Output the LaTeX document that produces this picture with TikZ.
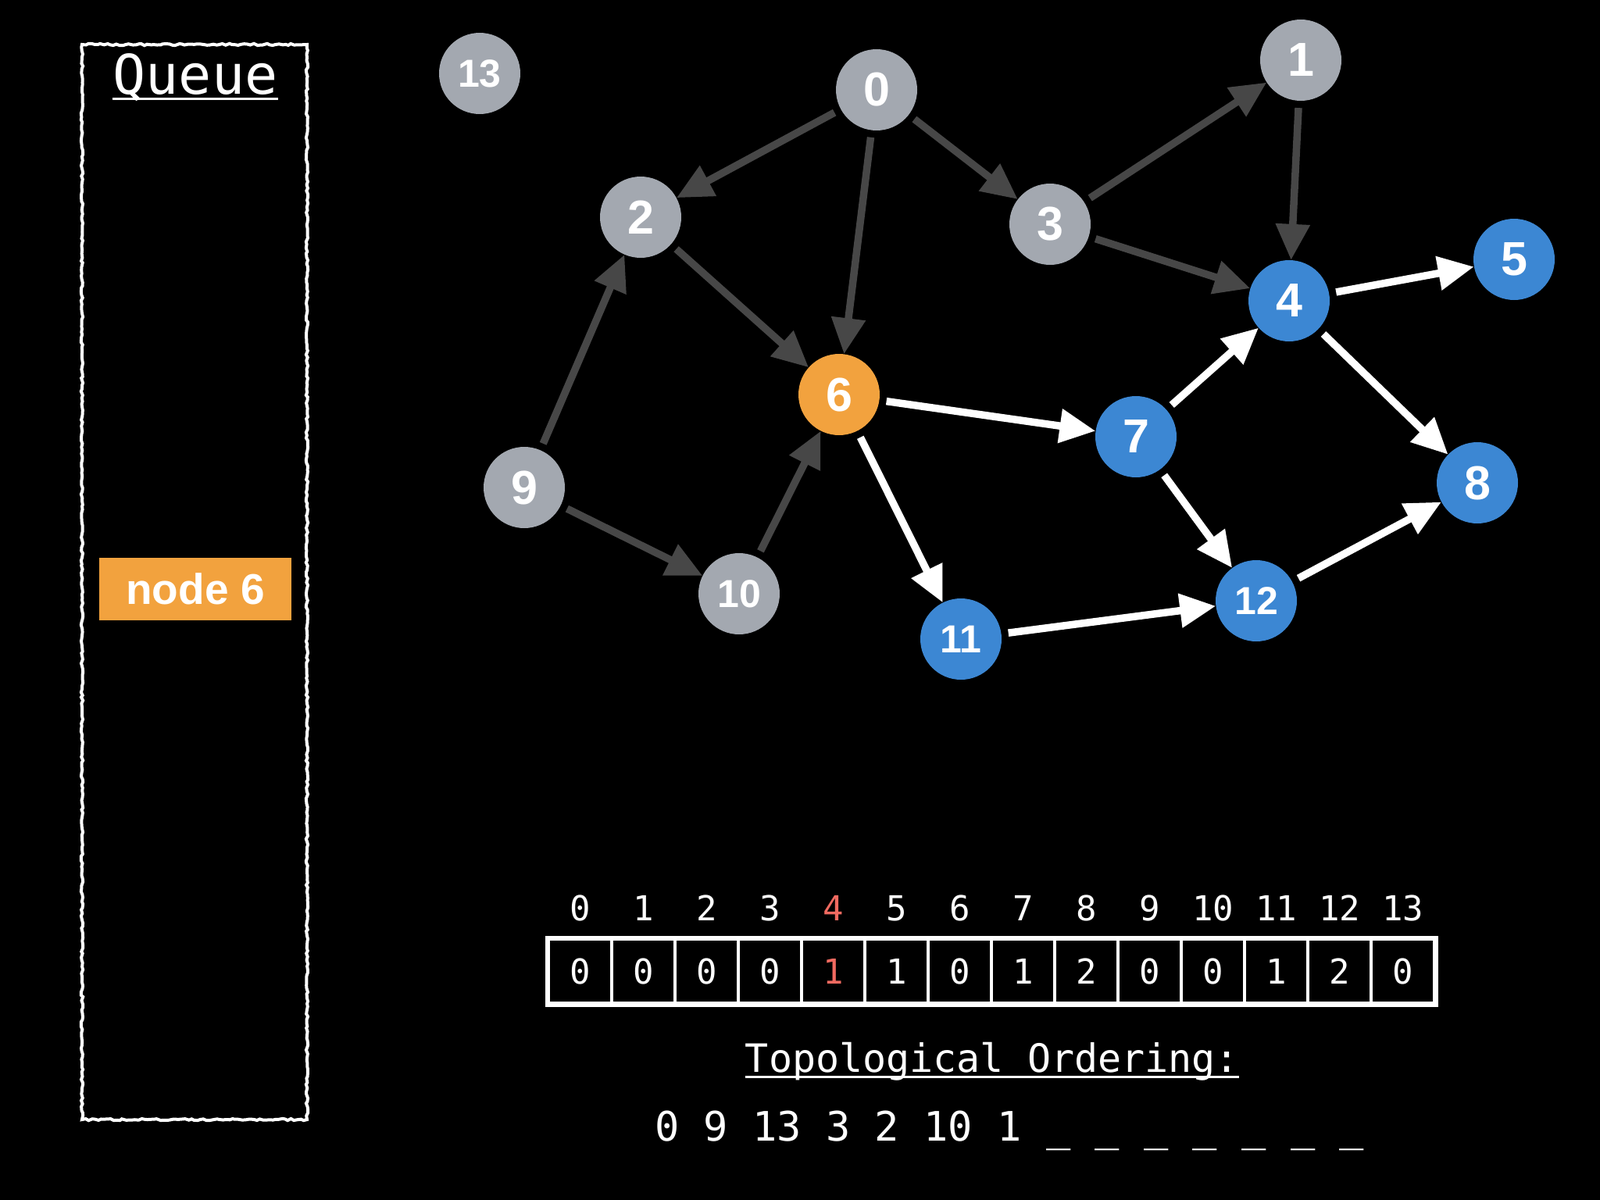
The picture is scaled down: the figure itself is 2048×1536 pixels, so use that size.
\documentclass[tikz,border=0pt]{standalone}
\usepackage{fontspec}
\setmainfont{Liberation Sans}
\newfontfamily\monofont{DejaVu Sans Mono}
\usepackage{xcolor}
\usepackage{tikz}
\usetikzlibrary{arrows.meta,decorations.pathmorphing}
\definecolor{bg}{HTML}{000000}
\definecolor{ngray}{HTML}{A3A8B0}
\definecolor{nblue}{HTML}{3C87D3}
\definecolor{norange}{HTML}{F2A23E}
\definecolor{egray}{HTML}{474747}
\definecolor{hl}{HTML}{F06A60}
\tikzset{
  vert/.style={circle, minimum size=104pt, inner sep=0pt, text=white,
    font=\bfseries\fontsize{61}{61}\selectfont},
  vsmall/.style={vert, font=\bfseries\fontsize{50}{50}\selectfont},
  gvert/.style={fill=ngray},
  bvert/.style={fill=nblue},
  overt/.style={fill=norange},
  gedge/.style={draw=egray, line width=9.5pt, shorten <=9pt,
    -{Triangle[length=46pt,width=42pt]}},
  wedge/.style={gedge, draw=white},
  qbox/.style={draw=white, line width=4pt, decorate,
    decoration={random steps, segment length=4pt, amplitude=1.2pt}},
  qitem/.style={fill=norange, text=white, minimum width=246pt, minimum height=80pt,
    inner sep=0pt, font=\bfseries\fontsize{55}{55}\selectfont},
  idx/.style={text=white, inner sep=0pt, anchor=base,
    font=\monofont\fontsize{44}{44}\selectfont},
  cell/.style={draw=white, line width=4pt, minimum width=81pt, minimum height=82pt,
    inner sep=0pt, text=white, font=\monofont\fontsize{44}{44}\selectfont},
  mtext/.style={text=white, inner sep=0pt, font=\monofont\fontsize{50}{50}\selectfont},
  uline/.style={draw=white, line width=3pt}
}
\begin{document}
\begin{tikzpicture}[x=1pt, y=-1pt]
  \fill[bg] (0,0) rectangle (2048,1536);
  \useasboundingbox (0,0) rectangle (2048,1536);

  % queue
  \draw[qbox] (105,57) rectangle (393,1433);
  \node[mtext, anchor=base, font=\monofont\fontsize{70}{70}\selectfont] (qt) at (250,121) {Queue};
  \draw[uline] ([yshift=-6pt]qt.base west) -- ([yshift=-6pt]qt.base east);
  \node[qitem] (q6) at (250,754) {node 6};

  % graph
  \node[vsmall, gvert] (n13) at (614,94) {13};
  \node[vert, gvert] (n0) at (1122,115) {0};
  \node[vert, gvert] (n1) at (1665,77) {1};
  \node[vert, gvert] (n2) at (820,278) {2};
  \node[vert, gvert] (n3) at (1344,287) {3};
  \node[vert, bvert] (n4) at (1650,385) {4};
  \node[vert, bvert] (n5) at (1938,332) {5};
  \node[vert, overt] (n6) at (1074,505) {6};
  \node[vert, bvert] (n7) at (1454,559) {7};
  \node[vert, bvert] (n8) at (1891,618) {8};
  \node[vert, gvert] (n9) at (671,624) {9};
  \node[vsmall, gvert] (n10) at (946,760) {10};
  \node[vsmall, bvert] (n11) at (1230,818) {11};
  \node[vsmall, bvert] (n12) at (1608,769) {12};

  \foreach \a/\b in {0/2,0/6,0/3,3/1,1/4,3/4,2/6,9/2,9/10,10/6}
    \draw[gedge] (n\a) -- (n\b);
  \foreach \a/\b in {6/7,6/11,7/4,4/5,4/8,7/12,11/12,12/8}
    \draw[wedge] (n\a) -- (n\b);

  % in-degree array
  \foreach \v [count=\i from 0] in {0,0,0,0,1,1,0,1,2,0,0,1,2,0} {
    \ifnum\i=4 \def\tc{hl}\else\def\tc{white}\fi
    \node[idx, text=\tc] (i\i) at ({742.5+81*\i},1178) {\i};
    \node[cell, text=\tc] (c\i) at ({742.5+81*\i},1243) {\v};
  }
  \draw[draw=white, line width=5pt] (c0.north west) rectangle (c13.south east);

  % ordering
  \node[mtext, anchor=base] (tt) at (1270,1372) {Topological Ordering:};
  \draw[uline] ([yshift=-6pt]tt.base west) -- ([yshift=-6pt]tt.base east);
  \node[mtext, anchor=base west, font=\monofont\fontsize{52}{52}\selectfont] (ord) at (838,1460) {0 9 13 3 2 10 1 \_ \_ \_ \_ \_ \_ \_};
\end{tikzpicture}
\end{document}
